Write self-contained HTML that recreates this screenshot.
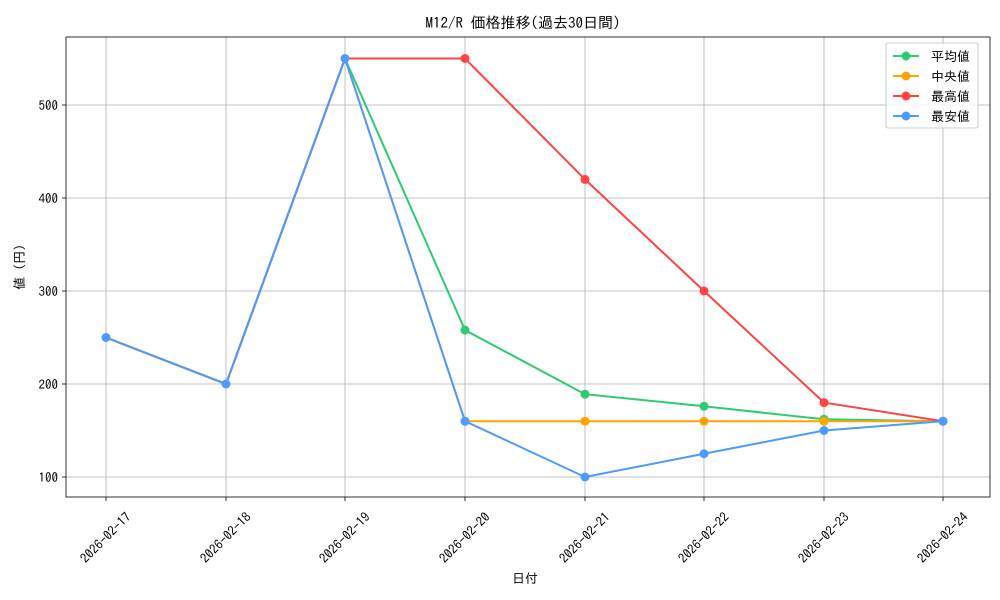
<!DOCTYPE html>
<html><head><meta charset="utf-8"><style>body{margin:0;background:#fff}svg{display:block}text{font-family:"IPAGothic","Liberation Mono","Noto Sans CJK JP",monospace;fill:#000}</style></head><body>
<svg width="1000" height="600" xmlns="http://www.w3.org/2000/svg">
<rect width="1000" height="600" fill="#fff"/>
<g stroke="#b0b0b0" stroke-width="0.8">
<line x1="106" y1="37" x2="106" y2="497"/><line x1="226" y1="37" x2="226" y2="497"/><line x1="345" y1="37" x2="345" y2="497"/><line x1="465" y1="37" x2="465" y2="497"/><line x1="585" y1="37" x2="585" y2="497"/><line x1="704" y1="37" x2="704" y2="497"/><line x1="824" y1="37" x2="824" y2="497"/><line x1="943" y1="37" x2="943" y2="497"/>
<line x1="66" y1="477" x2="990" y2="477"/><line x1="66" y1="384" x2="990" y2="384"/><line x1="66" y1="291" x2="990" y2="291"/><line x1="66" y1="198" x2="990" y2="198"/><line x1="66" y1="105" x2="990" y2="105"/>
</g>
<rect x="66" y="37" width="924" height="460" fill="none" stroke="#000" stroke-width="0.8"/>
<g stroke="#000" stroke-width="0.8">
<line x1="106" y1="497" x2="106" y2="501"/><line x1="226" y1="497" x2="226" y2="501"/><line x1="345" y1="497" x2="345" y2="501"/><line x1="465" y1="497" x2="465" y2="501"/><line x1="585" y1="497" x2="585" y2="501"/><line x1="704" y1="497" x2="704" y2="501"/><line x1="824" y1="497" x2="824" y2="501"/><line x1="943" y1="497" x2="943" y2="501"/>
<line x1="62" y1="477" x2="66" y2="477"/><line x1="62" y1="384" x2="66" y2="384"/><line x1="62" y1="291" x2="66" y2="291"/><line x1="62" y1="198" x2="66" y2="198"/><line x1="62" y1="105" x2="66" y2="105"/>
</g>
<g font-size="13" text-anchor="end">
<text x="58" y="482">100</text><text x="58" y="389">200</text><text x="58" y="296">300</text><text x="58" y="203">400</text><text x="58" y="110">500</text>
</g>
<g font-size="13" text-anchor="middle">
<text transform="translate(106,538) rotate(-45)" dy="4">2026-02-17</text>
<text transform="translate(226,538) rotate(-45)" dy="4">2026-02-18</text>
<text transform="translate(345,538) rotate(-45)" dy="4">2026-02-19</text>
<text transform="translate(465,538) rotate(-45)" dy="4">2026-02-20</text>
<text transform="translate(585,538) rotate(-45)" dy="4">2026-02-21</text>
<text transform="translate(704,538) rotate(-45)" dy="4">2026-02-22</text>
<text transform="translate(824,538) rotate(-45)" dy="4">2026-02-23</text>
<text transform="translate(943,538) rotate(-45)" dy="4">2026-02-24</text>
</g>
<text x="525" y="583" font-size="13" text-anchor="middle">日付</text>
<text transform="translate(24,267) rotate(-90)" font-size="13" text-anchor="middle">値 (円)</text>
<text x="523" y="28" font-size="15" text-anchor="middle">M12/R 価格推移(過去30日間)</text>
<g fill="none" stroke-width="2">
<polyline stroke="#2ecc71" points="106,337.5 226,384 345,58.5 465,330.1 585,394.2 704,406.3 824,419.3 943,421.2"/>
<polyline stroke="#ffa500" points="106,337.5 226,384 345,58.5 465,421.2 585,421.2 704,421.2 824,421.2 943,421.2"/>
<polyline stroke="#ff4444" points="106,337.5 226,384 345,58.5 465,58.5 585,179.4 704,291 824,402.6 943,421.2"/>
<polyline stroke="#4d9bff" points="106,337.5 226,384 345,58.5 465,421.2 585,477 704,453.75 824,430.5 943,421.2"/>
</g>
<g fill="#2ecc71"><circle cx="465" cy="330.1" r="4.5"/><circle cx="585" cy="394.2" r="4.5"/><circle cx="704" cy="406.3" r="4.5"/><circle cx="824" cy="419.3" r="4.5"/></g>
<g fill="#ffa500"><circle cx="585" cy="421.2" r="4.5"/><circle cx="704" cy="421.2" r="4.5"/><circle cx="824" cy="421.2" r="4.5"/></g>
<g fill="#ff4444"><circle cx="465" cy="58.5" r="4.5"/><circle cx="585" cy="179.4" r="4.5"/><circle cx="704" cy="291" r="4.5"/><circle cx="824" cy="402.6" r="4.5"/><circle cx="943" cy="421.2" r="4.5"/></g>
<g fill="#4d9bff"><circle cx="106" cy="337.5" r="4.5"/><circle cx="226" cy="384" r="4.5"/><circle cx="345" cy="58.5" r="4.5"/><circle cx="465" cy="421.2" r="4.5"/><circle cx="585" cy="477" r="4.5"/><circle cx="704" cy="453.75" r="4.5"/><circle cx="824" cy="430.5" r="4.5"/><circle cx="943" cy="421.2" r="4.5"/></g>
<rect x="886" y="43" width="92" height="85" rx="2" fill="#fff" fill-opacity="0.8" stroke="#ccc"/>
<g stroke-width="2"><line x1="893" y1="56" x2="919" y2="56" stroke="#2ecc71"/><line x1="893" y1="76" x2="919" y2="76" stroke="#ffa500"/><line x1="893" y1="96" x2="919" y2="96" stroke="#ff4444"/><line x1="893" y1="116" x2="919" y2="116" stroke="#4d9bff"/></g>
<circle cx="906" cy="56" r="4.5" fill="#2ecc71"/><circle cx="906" cy="76" r="4.5" fill="#ffa500"/><circle cx="906" cy="96" r="4.5" fill="#ff4444"/><circle cx="906" cy="116" r="4.5" fill="#4d9bff"/>
<g font-size="13"><text x="931" y="61">平均値</text><text x="931" y="81"> 中央値</text><text x="931" y="101">最高値</text><text x="931" y="121">最安値</text></g>
</svg>
</body></html>
